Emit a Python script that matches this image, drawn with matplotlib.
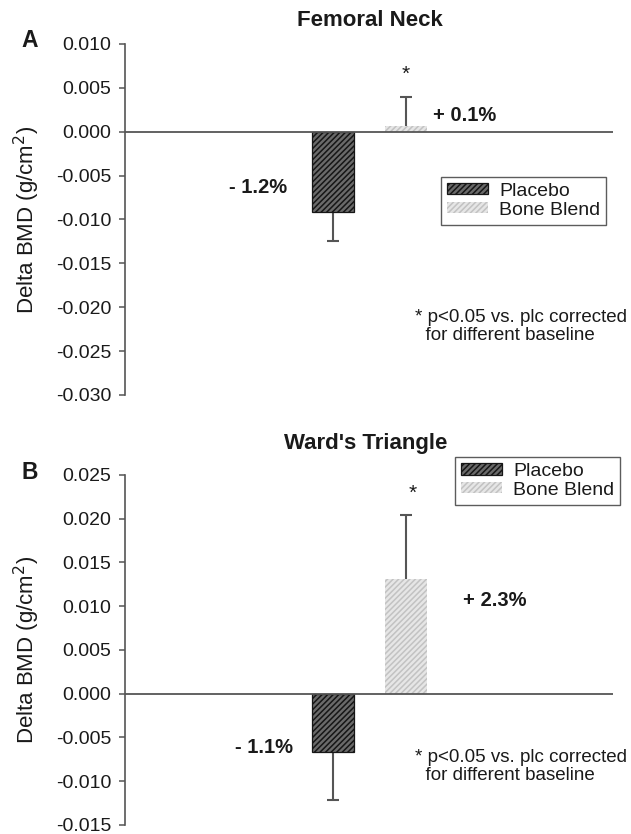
""" Delta BMD at femoral neck and Ward's triangle, placebo vs bone blend
"""

import numpy as np
import matplotlib
matplotlib.use("Agg")
import matplotlib.pyplot as plt
from matplotlib.ticker import FormatStrFormatter

plt.rcParams['font.family'] = ['Liberation Sans', 'DejaVu Sans']
plt.rcParams['axes.unicode_minus'] = False
plt.rcParams['hatch.linewidth'] = 1.1

groups = ['Placebo', 'Bone Blend']

# femoral neck (panel A)
fn_mean = [-0.0092, 0.0007]
fn_err = [0.0032, 0.0033]
fn_pct = ['- 1.2%', '+ 0.1%']
fn_ticks = [0.010, 0.005, 0.000, -0.005, -0.010, -0.015, -0.020, -0.025, -0.030]

# ward's triangle (panel B)
wt_mean = [-0.0067, 0.0131]
wt_err = [0.0054, 0.0073]
wt_pct = ['- 1.1%', '+ 2.3%']
wt_ticks = [0.025, 0.020, 0.015, 0.010, 0.005, 0.000, -0.005, -0.010, -0.015]

face = ['#6a6a6a', '#e6e6e6']
edge = ['#161616', '#c2c2c2']
bar_lw = [0.9, 0]
axcol = '#555555'
txtcol = '#1a1a1a'

fig = plt.figure(figsize=(6.31, 8.34), dpi=100)
axA = fig.add_axes([0.198, 0.5264, 0.7734, 0.4209])
axB = fig.add_axes([0.198, 0.0108, 0.7734, 0.4197])

x = np.arange(len(groups))


def draw_panel(ax, mean, err, pct, ticks, pct_pos, star_dx):
    bars = ax.bar(x, mean, width=0.575, color=face, edgecolor=edge,
                  hatch='//////', lw=bar_lw, zorder=2)
    for i in range(len(mean)):
        lo = err[i] if mean[i] < 0 else 0
        hi = err[i] if mean[i] > 0 else 0
        eb = ax.errorbar(x[i], mean[i], yerr=[[lo], [hi]], fmt='none',
                         ecolor=axcol, elinewidth=1.5, capsize=4,
                         capthick=1.5, zorder=1)
        # one sided bars: hide the cap sitting on the bar end
        for cap in eb[1]:
            if np.allclose(cap.get_ydata(), mean[i]):
                cap.set_visible(False)
    ax.axhline(0, color=axcol, lw=1.3, zorder=3)
    # significance star over the bone blend error bar
    ax.annotate('*', xy=(x[1], mean[1] + err[1]), xytext=(star_dx, 12),
                textcoords='offset points', ha='center', va='baseline',
                fontsize=15, color=txtcol)
    for i in range(len(pct)):
        px, py = pct_pos[i]
        ax.text(px, py, pct[i], ha='right' if mean[i] < 0 else 'left',
                va='center', fontsize=14.5, fontweight='bold', color=txtcol)
    ax.set_xlim(-2.849, 3.836)
    ax.set_ylim(min(ticks), max(ticks))
    ax.set_yticks(ticks)
    ax.yaxis.set_major_formatter(FormatStrFormatter('%.3f'))
    ax.set_xticks([])
    for s in ['top', 'right', 'bottom']:
        ax.spines[s].set_visible(False)
    ax.spines['left'].set_color(axcol)
    ax.spines['left'].set_linewidth(1.2)
    ax.tick_params(axis='y', direction='out', length=4, width=1.1,
                   color=axcol, pad=6, labelsize=14, labelcolor=txtcol)
    return bars


barsA = draw_panel(axA, fn_mean, fn_err, fn_pct, fn_ticks,
                   [(-0.63, -0.0064), (1.37, 0.0018)], 0)
barsB = draw_panel(axB, wt_mean, wt_err, wt_pct, wt_ticks,
                   [(-0.55, -0.0061), (1.78, 0.0107)], 5)

for bars, anchor in [(barsA, (0.699, 0.7878)), (barsB, (0.721, 0.452))]:
    leg = fig.legend(bars, groups, loc='upper left', bbox_to_anchor=anchor,
                     fontsize=14, frameon=True, fancybox=False,
                     handlelength=2.1, handleheight=0.5, handletextpad=0.6,
                     labelspacing=0.1, borderpad=0.3, borderaxespad=0)
    leg.get_frame().set_edgecolor('#333333')
    leg.get_frame().set_linewidth(1.0)
    for t in leg.get_texts():
        t.set_color(txtcol)

ylab = 'Delta BMD (g/cm$^2$)'
fig.text(0.043, 0.7368, ylab, rotation=90, ha='center', va='center',
         fontsize=16, color=txtcol)
fig.text(0.043, 0.2206, ylab, rotation=90, ha='center', va='center',
         fontsize=16, color=txtcol)

fig.text(0.586, 0.976, 'Femoral Neck', ha='center', va='center',
         fontsize=16, fontweight='bold', color=txtcol)
fig.text(0.579, 0.4688, "Ward's Triangle", ha='center', va='center',
         fontsize=16, fontweight='bold', color=txtcol)
fig.text(0.0475, 0.952, 'A', ha='center', va='center', fontsize=16.5,
         fontweight='bold', color=txtcol)
fig.text(0.0475, 0.4329, 'B', ha='center', va='center', fontsize=16.5,
         fontweight='bold', color=txtcol)

note = '* p<0.05 vs. plc corrected\n  for different baseline'
fig.text(0.6577, 0.6295, note, ha='left', va='top', fontsize=13.5,
         color=txtcol, linespacing=1.1)
fig.text(0.6577, 0.1019, note, ha='left', va='top', fontsize=13.5,
         color=txtcol, linespacing=1.1)

fig.savefig('out.png', dpi=100)
